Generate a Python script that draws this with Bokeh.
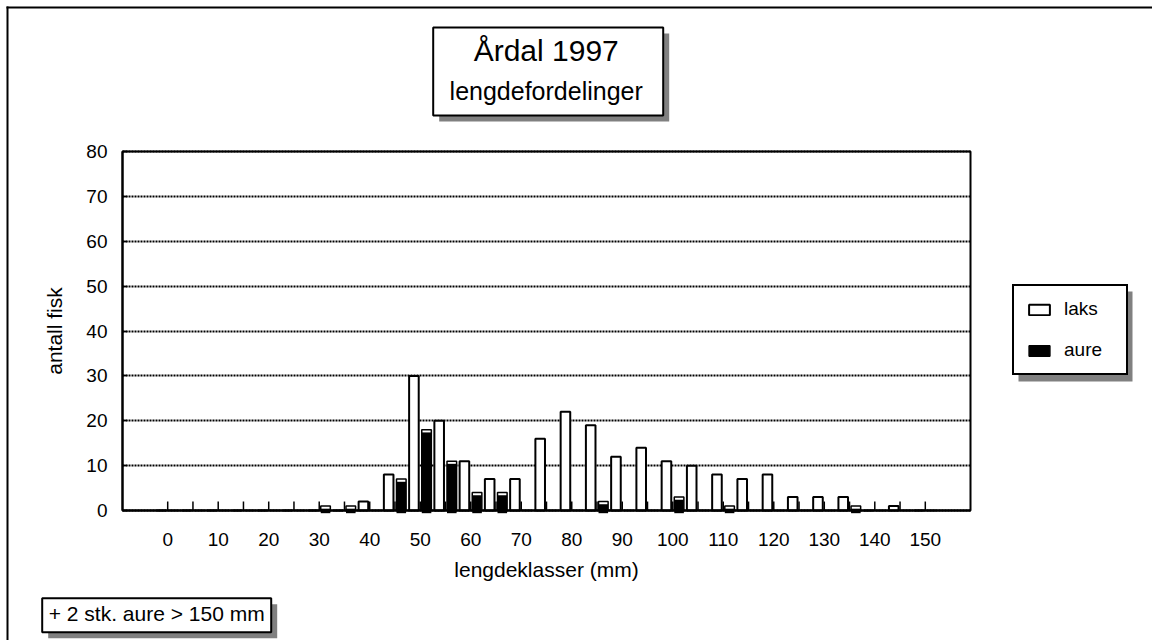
from bokeh.plotting import figure
from bokeh.models import (Range1d, FixedTicker, Label, BoxAnnotation, Legend,
                          LegendItem, ColumnDataSource, LinearAxis, Grid)
from bokeh.transform import dodge
from bokeh.embed import file_html
from bokeh.resources import INLINE

# ---------------- data ----------------
length_classes = [0, 5, 10, 15, 20, 25, 30, 35, 40, 45, 50, 55, 60, 65, 70, 75,
                  80, 85, 90, 95, 100, 105, 110, 115, 120, 125, 130, 135, 140, 145, 150]
laks = [0, 0, 0, 0, 0, 0, 0, 0, 2, 8, 30, 20, 11, 7, 7, 16,
        22, 19, 12, 14, 11, 10, 8, 7, 8, 3, 3, 3, 0, 1, 0]
aure = [0, 0, 0, 0, 0, 0, 1, 1, 0, 7, 18, 11, 4, 4, 0, 0,
        0, 2, 0, 0, 3, 0, 1, 0, 0, 0, 0, 1, 0, 0, 0]
x_tick_labels = ["0", "", "10", "", "20", "", "30", "", "40", "", "50", "", "60", "",
                 "70", "", "80", "", "90", "", "100", "", "110", "", "120", "",
                 "130", "", "140", "", "150"]
y_ticks = [0, 10, 20, 30, 40, 50, 60, 70, 80]
series_names = ["laks", "aure"]
title_text = "Årdal 1997"
subtitle_text = "lengdefordelinger"
x_title = "lengdeklasser (mm)"
y_title = "antall fisk"
note_text = "+ 2 stk. aure > 150 mm"

# ---------------- layout / style ----------------
FONT = "Liberation Sans"
W, H = 1152, 640
FL, FT, FW, FH = 122, 151, 848, 359          # chart area in canvas px
X0, X1 = -8.95, 158.95                        # chart area x extent (mm)
Y0, Y1 = 0, 80
BAR_W = 1.9
OFF = 1.25
SHADOW = 0.6
TICK_H = 2.0                                   # inner category tick height (y units)
GRAY = "#808080"
BASE_FIX = 9                                   # label baseline correction (px)


def dx(px):
    return X0 + (px - FL) * (X1 - X0) / FW


def dy(py):
    return Y0 + (FT + FH - py) * (Y1 - Y0) / FH


p = figure(width=W, height=H, x_range=Range1d(dx(0), dx(W)), y_range=Range1d(dy(H), dy(0)),
           output_backend="svg", toolbar_location=None, title=None,
           x_axis_type=None, y_axis_type=None, min_border=0)
p.background_fill_color = "white"
p.border_fill_color = "white"
p.outline_line_color = None

# outer chart-area border (left/top edges)
p.add_layout(BoxAnnotation(left=dx(6), right=dx(8), top=dy(6), bottom=dy(H + 20),
                           fill_color="black", fill_alpha=1, line_alpha=0))
p.add_layout(BoxAnnotation(left=dx(6), right=dx(W + 20), top=dy(6), bottom=dy(8),
                           fill_color="black", fill_alpha=1, line_alpha=0))

# grid lines (limited to chart area)
yt = FixedTicker(ticks=y_ticks)
grid = Grid(dimension=1, ticker=yt, grid_line_color="black", grid_line_dash="2 1",
            grid_line_width=2)
try:
    grid.cross_bounds = (X0, X1)
    p.add_layout(grid)
except AttributeError:
    p.segment(x0=[X0] * len(y_ticks), x1=[X1] * len(y_ticks), y0=y_ticks, y1=y_ticks,
              line_color="black", line_dash="2 1", line_width=2)

src = ColumnDataSource(dict(
    x=length_classes, laks=laks, aure=aure,
    aure_sh=[a - SHADOW for a in aure],
    tick0=[0] * len(length_classes), tick1=[TICK_H] * len(length_classes),
))

# category tick marks (inside, at each length class)
p.segment(x0="x", x1="x", y0="tick0", y1="tick1", line_color="black", line_width=1.5,
          source=src)

r_laks = p.vbar(x=dodge("x", -OFF, range=p.x_range), top="laks", bottom=0,
                width=BAR_W, fill_color="white", line_color="black",
                line_width=2, source=src)
r_aure_sh = p.vbar(x=dodge("x", OFF, range=p.x_range), top="aure_sh", bottom=-SHADOW,
                   width=BAR_W, fill_color="black", line_alpha=0, source=src)
r_aure = p.vbar(x=dodge("x", OFF, range=p.x_range), top="aure", bottom=0,
                width=BAR_W, fill_alpha=0, line_color="black",
                line_width=1.5, source=src)

# chart area outline
p.add_layout(BoxAnnotation(left=X0, right=X1, bottom=Y0, top=Y1, fill_alpha=0,
                           line_color="black", line_width=2, line_alpha=1))

# axes (fixed at the chart-area edges)
xt = FixedTicker(ticks=length_classes)
xaxis = LinearAxis(fixed_location=Y0, bounds=(X0, X1), ticker=xt)
xaxis.major_label_overrides = dict(zip(length_classes, x_tick_labels))
xaxis.major_tick_in = 0
xaxis.major_tick_out = 0
xaxis.major_label_standoff = 22
xaxis.axis_label = x_title
xaxis.axis_label_standoff = 9

yaxis = LinearAxis(fixed_location=X0, bounds=(Y0, Y1), ticker=yt)
yaxis.major_tick_in = 5
yaxis.major_tick_out = 0
yaxis.major_label_standoff = 15
yaxis.axis_label = y_title
yaxis.axis_label_standoff = 17

for ax in (xaxis, yaxis):
    ax.major_label_text_font = FONT
    ax.major_label_text_font_size = "19px"
    ax.major_label_text_color = "black"
    ax.axis_label_text_font = FONT
    ax.axis_label_text_font_size = "21px"
    ax.axis_label_text_font_style = "normal"
    ax.axis_label_text_color = "black"
    ax.axis_line_color = "black"
    ax.axis_line_width = 2
    ax.major_tick_line_color = "black"
    ax.major_tick_line_width = 1.5
    ax.minor_tick_line_color = None
p.add_layout(xaxis, "below")
p.add_layout(yaxis, "left")

# title box with shadow
tl, tr, tt, tb = 432.7, 662.7, 27, 115
p.add_layout(BoxAnnotation(left=dx(tl + 6), right=dx(tr + 6), top=dy(tt + 6), bottom=dy(tb + 6),
                           fill_color=GRAY, fill_alpha=1, line_alpha=0))
p.add_layout(BoxAnnotation(left=dx(tl), right=dx(tr), top=dy(tt), bottom=dy(tb),
                           fill_color="white", fill_alpha=1, line_color="black",
                           line_width=2, line_alpha=1))
p.add_layout(Label(x=dx((tl + tr) / 2 - 2), y=dy(59.3 - BASE_FIX), text=title_text,
                   text_font=FONT, text_font_size="30px", text_align="center",
                   text_baseline="alphabetic", text_color="black"))
p.add_layout(Label(x=dx((tl + tr) / 2 - 2), y=dy(99 - BASE_FIX), text=subtitle_text,
                   text_font=FONT, text_font_size="25px", text_align="center",
                   text_baseline="alphabetic", text_color="black"))

# legend with shadow
LW, LH = 114, 90
ll, lb = 1012, 375
p.add_layout(BoxAnnotation(left=dx(ll + 6), right=dx(ll + LW + 6), top=dy(lb - LH + 6),
                           bottom=dy(lb + 6), fill_color=GRAY, fill_alpha=1, line_alpha=0))
legend = Legend(items=[LegendItem(label=series_names[0], renderers=[r_laks]),
                       LegendItem(label=series_names[1], renderers=[r_aure_sh, r_aure])],
                location=(ll, H - lb))
legend.border_line_color = "black"
legend.border_line_width = 2
legend.border_line_alpha = 1
legend.background_fill_color = "white"
legend.background_fill_alpha = 1
legend.label_text_font = FONT
legend.label_text_font_size = "19px"
legend.label_text_color = "black"
legend.glyph_width = 26
legend.glyph_height = 13
legend.label_height = 20
legend.label_width = 50
legend.label_standoff = 12
legend.spacing = 19
legend.padding = 12
legend.margin = 0
p.add_layout(legend)

# note box with shadow
nl, nr, nt, nb = 41.7, 270.7, 597.7, 631.7
p.add_layout(BoxAnnotation(left=dx(nl + 6), right=dx(nr + 6), top=dy(nt + 6), bottom=dy(nb + 6),
                           fill_color=GRAY, fill_alpha=1, line_alpha=0))
p.add_layout(BoxAnnotation(left=dx(nl), right=dx(nr), top=dy(nt), bottom=dy(nb),
                           fill_color="white", fill_alpha=1, line_color="black",
                           line_width=2, line_alpha=1))
p.add_layout(Label(x=dx((nl + nr) / 2), y=dy(621.7 - BASE_FIX), text=note_text,
                   text_font=FONT, text_font_size="21px", text_align="center",
                   text_baseline="alphabetic", text_color="black"))

open("out.html", "w").write(file_html(p, INLINE))
